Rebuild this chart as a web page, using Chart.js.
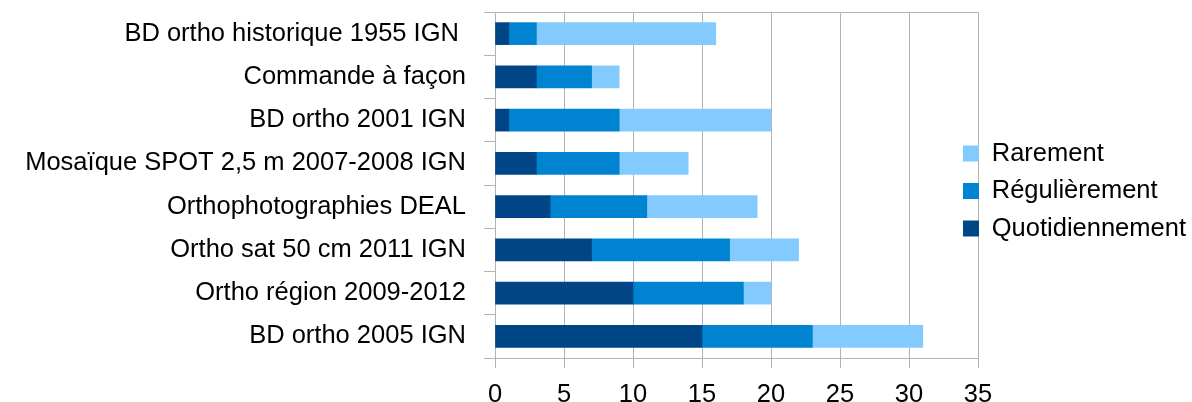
<!DOCTYPE html>
<html>
<head>
<meta charset="utf-8">
<script src="https://cdn.jsdelivr.net/npm/chart.js@4/dist/chart.umd.min.js"></script>
<style>
	html, body { margin: 0; padding: 0; background: #fff; }
	#wrap { width: 1192px; height: 402px; }
</style>
</head>
<body>
<div id="wrap"><canvas id="chart"></canvas></div>
<script>
const categories = [
	'BD ortho historique 1955 IGN ',
	'Commande à façon',
	'BD ortho 2001 IGN',
	'Mosaïque SPOT 2,5 m 2007-2008 IGN',
	'Orthophotographies DEAL',
	'Ortho sat 50 cm 2011 IGN',
	'Ortho région 2009-2012',
	'BD ortho 2005 IGN',
];
const quotidiennement = [1, 3, 1, 3, 4, 7, 10, 15];
const regulierement = [2, 4, 8, 6, 7, 10, 8, 8];
const rarement = [13, 2, 11, 5, 8, 5, 2, 8];
const xTicks = [0, 5, 10, 15, 20, 25, 30, 35];

const GRID = '#b3b3b3';
const FONT = { family: '"Liberation Sans", Arial, sans-serif', size: 25.5 };

// move the legend a little over the plot, like the original
const legendShift = {
	id: 'legendShift',
	afterLayout(chart) {
		const l = chart.legend;
		l.left -= 27;
		l.width = l.right - l.left;
		l.top = -10;
		l.bottom = 392;
		l.height = l.bottom - l.top;
	}
};

const ctx = document.getElementById('chart').getContext('2d');
new Chart(ctx, {
	type: 'bar',
	data: {
		labels: categories,
		datasets: [
			{ label: 'Quotidiennement', data: quotidiennement, backgroundColor: '#004586' },
			{ label: 'Régulièrement', data: regulierement, backgroundColor: '#0084d1' },
			{ label: 'Rarement', data: rarement, backgroundColor: '#83caff' },
		],
	},
	options: {
		indexAxis: 'y',
		responsive: true,
		maintainAspectRatio: false,
		animation: false,
		barThickness: 22,
		layout: { padding: { top: 12, left: 0, right: 0, bottom: 0 } },
		plugins: {
			tooltip: { enabled: false },
			legend: {
				position: 'right',
				reverse: true,
				maxWidth: 214,
				labels: {
					boxWidth: 16,
					boxHeight: 16,
					padding: 12,
					color: '#000',
					font: FONT,
				},
			},
		},
		scales: {
			x: {
				stacked: true,
				min: xTicks[0],
				max: xTicks[xTicks.length - 1],
				afterBuildTicks: (scale) => { scale.ticks = xTicks.map(v => ({ value: v })); },
				afterFit: (scale) => { scale.height = 44; },
				ticks: { color: '#000', font: FONT, padding: 12 },
				grid: { color: GRID, tickColor: GRID, tickLength: 10 },
				border: { color: GRID },
			},
			y: {
				stacked: true,
				afterFit: (scale) => {
					scale.width = 495;
					scale.paddingTop = 0;
					scale.paddingBottom = 0;
				},
				ticks: { color: '#000', font: FONT, padding: 18 },
				grid: {
					color: (c) => (c.index === 0 ? GRID : 'transparent'),
					tickColor: GRID,
					tickLength: 11,
				},
				border: { color: GRID },
			},
		},
	},
	plugins: [legendShift],
});
</script>
</body>
</html>
